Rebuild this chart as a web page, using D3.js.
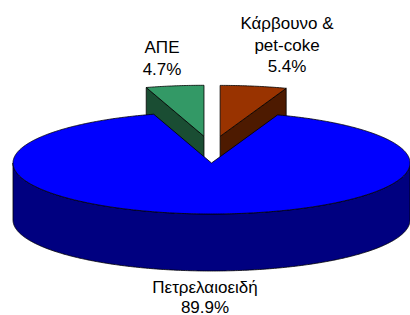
<!DOCTYPE html>
<html><head><meta charset="utf-8">
<script src="https://cdn.jsdelivr.net/npm/d3@7"></script>
<style>html,body{margin:0;padding:0;background:#fff;}svg{display:block;}</style>
</head><body>
<script>
// ---- data ----
const categories = ["Κάρβουνο & pet-coke", "Πετρελαιοειδή", "ΑΠΕ"];
const values = [5.4, 89.9, 4.7];
const labelNames = [["Κάρβουνο &", "pet-coke"], ["Πετρελαιοειδή"], ["ΑΠΕ"]];
const exploded = [true, false, true];
const topColors = ["#993300", "#0000FF", "#339966"];
const sideColors = ["#4D1A00", "#000080", "#1A4D33"];

// ---- layout ----
const W = 410, H = 315;
const cx = 211.5, cy = 163, rx = 198.5, ry = 51, depth = 57;
const explodeX = 51, explodeY = 27;
const labelAnchors = [[287, 29], [205, 293], [162, 53]];
const lineH = [21.5, 19.5, 22];

const svg = d3.select("body").append("svg").attr("width", W).attr("height", H);

const pie = d3.pie().sort(null).value(d => d).startAngle(0).endAngle(2 * Math.PI);
const arcs = pie(values).map((a, i) => {
  const mid = (a.startAngle + a.endAngle) / 2;
  const ox = exploded[i] ? explodeX * Math.sin(mid) : 0;
  const oy = exploded[i] ? -explodeY * Math.cos(mid) : 0;
  return {...a, i, mid, ox, oy};
});

const px = (a, c) => c.x + rx * Math.sin(a);
const py = (a, c, dz) => c.y - ry * Math.cos(a) + (dz || 0);
const line = d3.line();

function rimPoints(a0, a1, c, dz) {
  const n = Math.max(2, Math.ceil((a1 - a0) / (Math.PI / 360)));
  const pts = [];
  for (let k = 0; k <= n; k++) {
    const a = a0 + (a1 - a0) * k / n;
    pts.push([px(a, c), py(a, c, dz)]);
  }
  return pts;
}

// back (exploded) slices first, main slice last
const order = arcs.slice().sort((a, b) => (a.ox === 0 && a.oy === 0) - (b.ox === 0 && b.oy === 0));

const g = svg.append("g").attr("stroke", "#000").attr("stroke-width", 0.8).attr("stroke-linejoin", "round");

order.forEach(s => {
  const c = {x: cx + s.ox, y: cy + s.oy};
  const a0 = s.startAngle, a1 = s.endAngle;
  // outer wall (front half: PI/2 .. 3PI/2)
  const w0 = Math.max(a0, Math.PI / 2), w1 = Math.min(a1, 3 * Math.PI / 2);
  if (w1 > w0) {
    const top = rimPoints(w0, w1, c, 0);
    const bot = rimPoints(w0, w1, c, depth).reverse();
    g.append("path").attr("d", line(top.concat(bot)) + "Z").attr("fill", sideColors[s.i]);
  }
  // radial faces
  [[a0, Math.sin(a0)], [a1, -Math.sin(a1)]].forEach(([a, nz]) => {
    if (nz < -1e-6) {
      const pts = [[c.x, c.y], [px(a, c), py(a, c)], [px(a, c), py(a, c, depth)], [c.x, c.y + depth]];
      g.append("path").attr("d", line(pts) + "Z").attr("fill", sideColors[s.i]);
    }
  });
  // top face
  const topPts = [[c.x, c.y]].concat(rimPoints(a0, a1, c, 0));
  g.append("path").attr("d", line(topPts) + "Z").attr("fill", topColors[s.i]);
});

// labels
const fmt = d3.format(".1f");
arcs.forEach(s => {
  const [lx, ly] = labelAnchors[s.i];
  const lines = labelNames[s.i].concat([fmt(values[s.i]) + "%"]);
  const t = svg.append("text")
    .attr("x", lx).attr("y", ly)
    .attr("text-anchor", "middle")
    .attr("font-family", "Arial, 'Liberation Sans', sans-serif")
    .attr("font-size", 17).attr("fill", "#000");
  lines.forEach((l, k) => t.append("tspan").attr("x", lx).attr("y", ly + k * lineH[s.i]).text(l));
});
</script>
</body></html>
